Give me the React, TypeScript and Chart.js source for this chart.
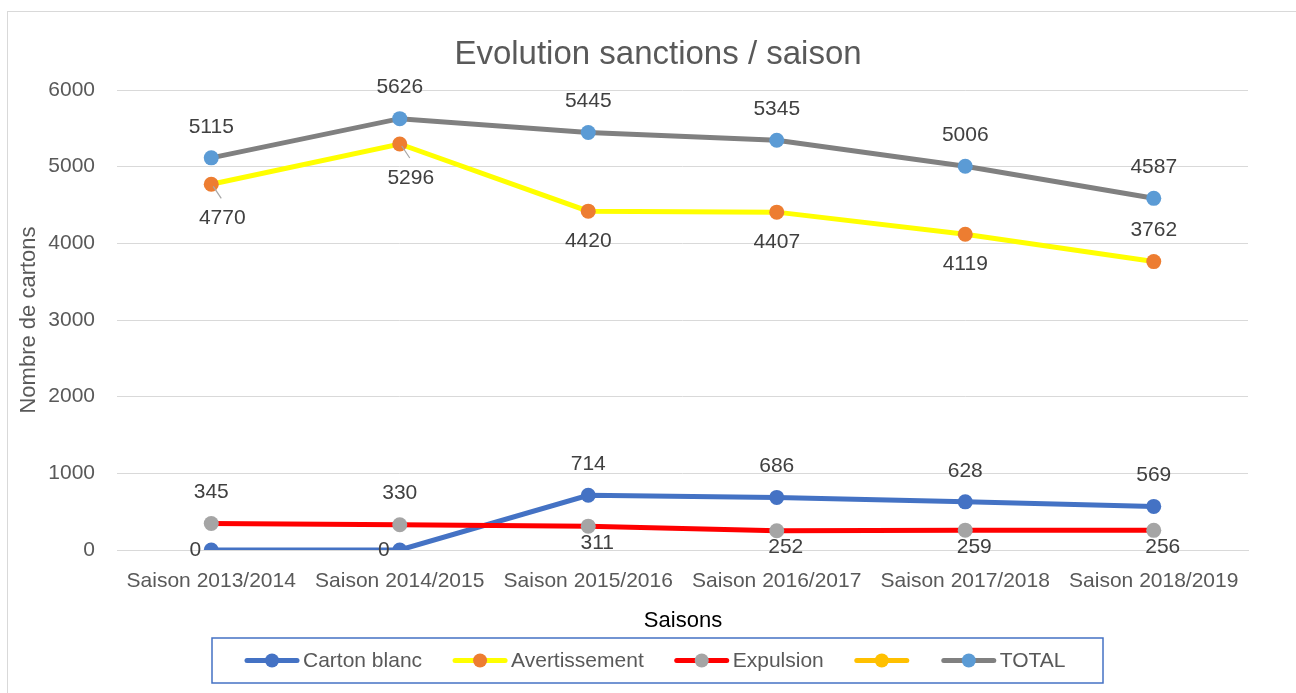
import React, { useEffect, useRef } from 'react';
import { Chart, registerables } from 'chart.js';

Chart.register(...registerables);

// ---- Data ----
const seasons = [
  'Saison 2013/2014',
  'Saison 2014/2015',
  'Saison 2015/2016',
  'Saison 2016/2017',
  'Saison 2017/2018',
  'Saison 2018/2019',
];
const cartonBlanc = [0, 0, 714, 686, 628, 569];
const avertissement = [4770, 5296, 4420, 4407, 4119, 3762];
const expulsion = [345, 330, 311, 252, 259, 256];
const serieSansNom: number[] = [];
const total = [5115, 5626, 5445, 5345, 5006, 4587];
const yTicks = [0, 1000, 2000, 3000, 4000, 5000, 6000];

// label placement per point
const cartonBlancLabels = ['left', 'left', 'above', 'above', 'above', 'above'];
const avertissementLabels = ['leader', 'leader', 'below', 'below', 'below', 'above'];
const expulsionLabels = ['above', 'above', 'belowNear', 'belowNear', 'belowNear', 'belowNear'];
const serieSansNomLabels: string[] = [];
const totalLabels = ['above', 'above', 'above', 'above', 'above', 'above'];

const FONT = "'Liberation Sans', Arial, sans-serif";
const TEXT = '#595959';
const LABEL = '#404040';

const placementOffsets: Record<string, [number, number]> = {
  above: [0, -31],
  below: [0, 30],
  left: [-16, 0],
  leader: [11, 34],
  belowNear: [9, 17],
};

const seriesDefs = [
  { label: 'Carton blanc', data: cartonBlanc, line: '#4472C4', point: '#4472C4', labels: cartonBlancLabels },
  { label: 'Avertissement', data: avertissement, line: '#FFFF00', point: '#ED7D31', labels: avertissementLabels },
  { label: 'Expulsion', data: expulsion, line: '#FF0000', point: '#A5A5A5', labels: expulsionLabels },
  { label: '', data: serieSansNom, line: '#FFC000', point: '#FFC000', labels: serieSansNomLabels },
  { label: 'TOTAL', data: total, line: '#808080', point: '#5B9BD5', labels: totalLabels },
];

const customDraw = {
  id: 'customDraw',
  afterDatasetsDraw(chart: any) {
    const ctx = chart.ctx;
    ctx.save();
    ctx.font = `21px ${FONT}`;
    ctx.fillStyle = LABEL;
    ctx.textAlign = 'center';
    ctx.textBaseline = 'middle';
    chart.data.datasets.forEach((ds: any, i: number) => {
      const meta = chart.getDatasetMeta(i);
      const places: string[] = seriesDefs[i].labels;
      meta.data.forEach((pt: any, j: number) => {
        const place = places[j] || 'above';
        const [dx, dy] = placementOffsets[place];
        if (place === 'leader') {
          ctx.strokeStyle = '#A6A6A6';
          ctx.lineWidth = 1.2;
          ctx.beginPath();
          ctx.moveTo(pt.x + 2, pt.y + 2);
          ctx.lineTo(pt.x + 10, pt.y + 14);
          ctx.stroke();
        }
        ctx.fillText(String(ds.data[j]), pt.x + dx, pt.y + dy);
      });
    });
    ctx.restore();
  },
  afterDraw(chart: any) {
    const ctx = chart.ctx;
    ctx.save();
    // Title
    ctx.fillStyle = TEXT;
    ctx.font = `33px ${FONT}`;
    ctx.textAlign = 'center';
    ctx.textBaseline = 'middle';
    ctx.fillText('Evolution sanctions / saison', 650, 43);

    // Y axis title
    ctx.save();
    ctx.translate(21, 308);
    ctx.rotate(-Math.PI / 2);
    ctx.font = `22px ${FONT}`;
    ctx.fillStyle = TEXT;
    ctx.fillText('Nombre de cartons', 0, 0);
    ctx.restore();

    // X axis title
    ctx.font = `22px ${FONT}`;
    ctx.fillStyle = '#000000';
    ctx.fillText('Saisons', 675, 609);

    // Legend box
    const boxL = 204, boxT = 626, boxR = 1095, boxB = 671;
    ctx.strokeStyle = '#4472C4';
    ctx.lineWidth = 1.5;
    ctx.strokeRect(boxL, boxT, boxR - boxL, boxB - boxT);

    ctx.font = `21px ${FONT}`;
    ctx.textAlign = 'left';
    const cy = (boxT + boxB) / 2;
    let x = boxL + 33;
    const symW = 54;
    chart.data.datasets.forEach((ds: any) => {
      ctx.strokeStyle = ds.borderColor;
      ctx.lineWidth = 5;
      ctx.lineCap = 'round';
      ctx.beginPath();
      ctx.moveTo(x + 2, cy);
      ctx.lineTo(x + symW - 2, cy);
      ctx.stroke();
      ctx.fillStyle = ds.pointBackgroundColor;
      ctx.beginPath();
      ctx.arc(x + symW / 2, cy, 7, 0, Math.PI * 2);
      ctx.fill();
      x += symW + 4;
      if (ds.label) {
        ctx.fillStyle = TEXT;
        ctx.fillText(ds.label, x, cy + 1);
        x += ctx.measureText(ds.label).width + 31;
      } else {
        x += 29;
      }
    });
    ctx.restore();
  },
};

export default function App() {
  const canvasRef = useRef<HTMLCanvasElement | null>(null);

  useEffect(() => {
    if (!canvasRef.current) return;
    const chart = new Chart(canvasRef.current, {
      type: 'line',
      data: {
        labels: seasons,
        datasets: seriesDefs.map((s, i) => ({
          label: s.label,
          data: s.data,
          borderColor: s.line,
          backgroundColor: s.line,
          pointBackgroundColor: s.point,
          pointBorderColor: s.point,
          pointBorderWidth: 0,
          pointRadius: 7.5,
          borderWidth: 5,
          tension: 0,
          fill: false,
          order: seriesDefs.length - i,
        })),
      },
      options: {
        responsive: false,
        animation: false,
        devicePixelRatio: 1,
        layout: { padding: { top: 78, left: 0, right: 44, bottom: 102 } },
        plugins: {
          legend: { display: false },
          title: { display: false },
          tooltip: { enabled: false },
        },
        scales: {
          x: {
            offset: true,
            grid: { display: false, drawTicks: false, tickLength: 0 },
            border: { display: true, color: '#D9D9D9', width: 1 },
            ticks: {
              color: TEXT,
              font: { family: FONT, size: 21 },
              padding: 19,
              maxRotation: 0,
              autoSkip: false,
            },
            afterFit: (scale: any) => {
              scale.height = 60;
            },
          },
          y: {
            min: yTicks[0],
            max: yTicks[yTicks.length - 1],
            grid: { color: '#D9D9D9', lineWidth: 1, drawTicks: false, tickLength: 0 },
            border: { display: false },
            ticks: {
              stepSize: yTicks[1] - yTicks[0],
              color: TEXT,
              font: { family: FONT, size: 21 },
              padding: 22,
              callback: (v: any) => String(v),
            },
            afterFit: (scale: any) => {
              scale.width = 109;
            },
          },
        },
      },
      plugins: [customDraw],
    });
    return () => chart.destroy();
  }, []);

  return (
    <div
      style={{
        position: 'fixed',
        left: 7,
        top: 11,
        width: 1320,
        height: 720,
        border: '1px solid #D9D9D9',
        boxSizing: 'border-box',
        background: '#ffffff',
      }}
    >
      <canvas ref={canvasRef} width={1284} height={700} style={{ display: 'block' }} />
    </div>
  );
}
